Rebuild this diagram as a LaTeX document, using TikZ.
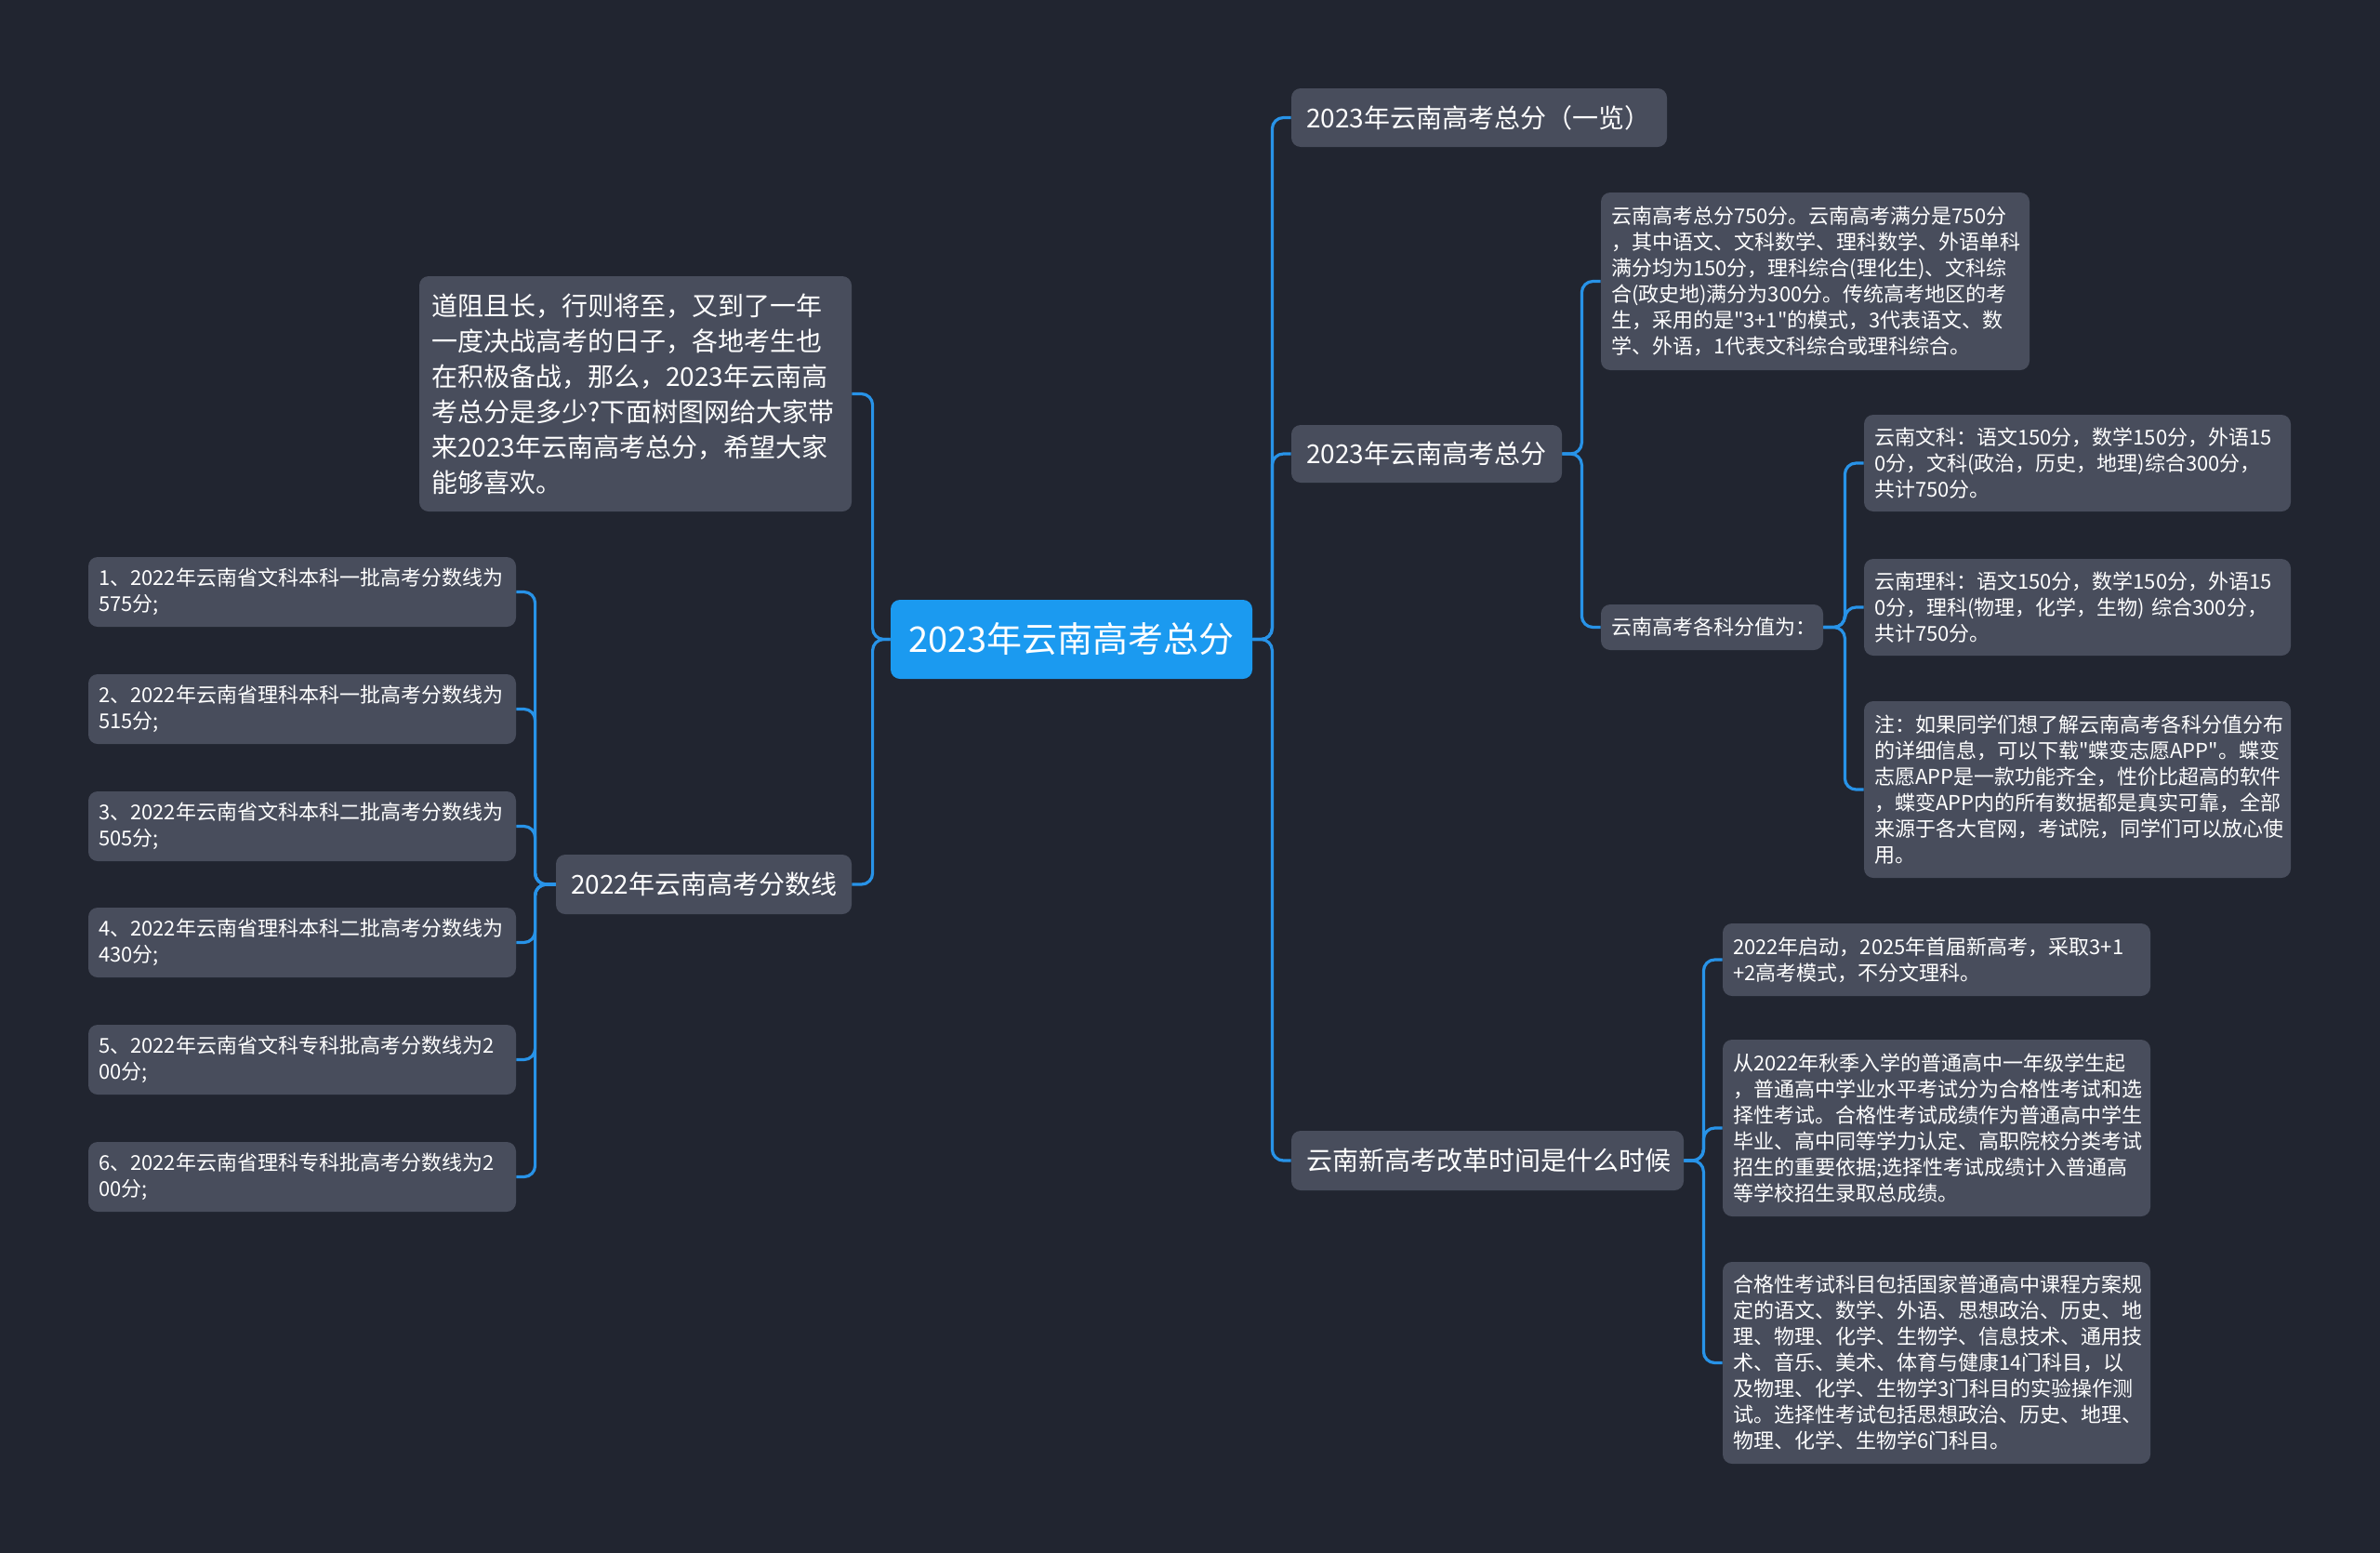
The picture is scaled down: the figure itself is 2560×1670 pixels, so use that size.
\documentclass[tikz,border=0pt]{standalone}
\usepackage{fontspec}
\newfontfamily\cjkf{Noto Sans CJK SC}
\definecolor{bgc}{HTML}{212530}
\definecolor{nodec}{HTML}{484D5C}
\definecolor{rootc}{HTML}{1B9AF0}
\definecolor{linec}{HTML}{2893E8}
\begin{document}
\begin{tikzpicture}[x=0.5pt,y=-0.5pt,
  box/.style={fill=nodec, rounded corners=5pt, text=white, align=left, inner ysep=0pt, inner xsep=5.5pt},
  sm/.style={font=\cjkf\fontsize{11pt}{14pt}\selectfont},
  md/.style={font=\cjkf\fontsize{14pt}{19pt}\selectfont},
  conn/.style={draw=linec, line width=1.6pt, rounded corners=6pt},
  leaf/.style={box, sm, minimum width=230pt, text width=219pt, minimum height=37.5pt}
]
\fill[bgc] (0,0) rectangle (2560,1670);
\useasboundingbox (0,0) rectangle (2560,1670);

% root
\node[fill=rootc, rounded corners=5pt, text=white, align=center, inner sep=0pt,
  minimum width=194.5pt, minimum height=42.5pt, font=\cjkf\fontsize{19pt}{23pt}\selectfont]
  (root) at (1152.5,687.5) {2023年云南高考总分};

% right level 1
\node[box, md, inner xsep=8pt, minimum width=202pt, text width=186pt, minimum height=31.5pt]
  (a1) at (1591,126.5) {2023年云南高考总分（一览）};
\node[box, md, inner xsep=8pt, minimum width=145.5pt, text width=129.5pt, minimum height=31pt]
  (a2) at (1534.5,488) {2023年云南高考总分};
\node[box, md, inner xsep=8pt, minimum width=211pt, text width=195pt, minimum height=32pt]
  (a3) at (1600,1248) {云南新高考改革时间是什么时候};

% under a2
\node[box, sm, minimum width=230.5pt, text width=219.5pt, minimum height=95.5pt]
  (b1) at (1952.5,302.5) {云南高考总分750分。云南高考满分是750分\\
，其中语文、文科数学、理科数学、外语单科\\
满分均为150分，理科综合(理化生)、文科综\\
合(政史地)满分为300分。传统高考地区的考\\
生，采用的是"3+1"的模式，3代表语文、数\\
学、外语，1代表文科综合或理科综合。};
\node[box, sm, minimum width=119.5pt, text width=108.5pt, minimum height=24.5pt]
  (b2) at (1841.5,674.5) {云南高考各科分值为：};

% under b2
\node[box, sm, minimum width=229.5pt, text width=218.5pt, minimum height=52pt]
  (c1) at (2234.5,498) {云南文科：语文150分，数学150分，外语15\\
0分，文科(政治，历史，地理)综合300分，\\
共计750分。};
\node[box, sm, minimum width=229.5pt, text width=218.5pt, minimum height=52pt]
  (c2) at (2234.5,653) {云南理科：语文150分，数学150分，外语15\\
0分，理科(物理，化学，生物) 综合300分，\\
共计750分。};
\node[box, sm, minimum width=229.5pt, text width=218.5pt, minimum height=95pt]
  (c3) at (2234.5,849) {注：如果同学们想了解云南高考各科分值分布\\
的详细信息，可以下载"蝶变志愿APP"。蝶变\\
志愿APP是一款功能齐全，性价比超高的软件\\
，蝶变APP内的所有数据都是真实可靠，全部\\
来源于各大官网，考试院，同学们可以放心使\\
用。};

% under a3
\node[box, sm, minimum width=230pt, text width=219pt, minimum height=39pt]
  (d1) at (2083,1032) {2022年启动，2025年首届新高考，采取3+1\\
+2高考模式，不分文理科。};
\node[box, sm, minimum width=230pt, text width=219pt, minimum height=95pt]
  (d2) at (2083,1213) {从2022年秋季入学的普通高中一年级学生起\\
，普通高中学业水平考试分为合格性考试和选\\
择性考试。合格性考试成绩作为普通高中学生\\
毕业、高中同等学力认定、高职院校分类考试\\
招生的重要依据;选择性考试成绩计入普通高\\
等学校招生录取总成绩。};
\node[box, sm, minimum width=230pt, text width=219pt, minimum height=108.5pt]
  (d3) at (2083,1465.5) {合格性考试科目包括国家普通高中课程方案规\\
定的语文、数学、外语、思想政治、历史、地\\
理、物理、化学、生物学、信息技术、通用技\\
术、音乐、美术、体育与健康14门科目，以\\
及物理、化学、生物学3门科目的实验操作测\\
试。选择性考试包括思想政治、历史、地理、\\
物理、化学、生物学6门科目。};

% left
\node[box, md, inner xsep=6.5pt, minimum width=232.5pt, text width=219.5pt, minimum height=126.5pt]
  (e1) at (683.5,423.5) {道阻且长，行则将至，又到了一年\\
一度决战高考的日子，各地考生也\\
在积极备战，那么，2023年云南高\\
考总分是多少?下面树图网给大家带\\
来2023年云南高考总分，希望大家\\
能够喜欢。};
\node[box, md, inner xsep=8pt, minimum width=159pt, text width=143pt, minimum height=32pt]
  (e2) at (757,951) {2022年云南高考分数线};

\node[leaf] (f1) at (325,636.5) {1、2022年云南省文科本科一批高考分数线为\\575分;};
\node[leaf] (f2) at (325,762.5) {2、2022年云南省理科本科一批高考分数线为\\515分;};
\node[leaf] (f3) at (325,888.5) {3、2022年云南省文科本科二批高考分数线为\\505分;};
\node[leaf] (f4) at (325,1013.5) {4、2022年云南省理科本科二批高考分数线为\\430分;};
\node[leaf] (f5) at (325,1139.5) {5、2022年云南省文科专科批高考分数线为2\\00分;};
\node[leaf] (f6) at (325,1265.5) {6、2022年云南省理科专科批高考分数线为2\\00分;};

% connectors
\foreach \c in {a1,a2,a3}
  \draw[conn] (root.east) -- ++(21,0) |- (\c.west);
\foreach \c in {e1,e2}
  \draw[conn] (root.west) -- ++(-19,0) |- (\c.east);
\foreach \c in {b1,b2}
  \draw[conn] (a2.east) -- ++(21,0) |- (\c.west);
\foreach \c in {c1,c2,c3}
  \draw[conn] (b2.east) -- ++(23,0) |- (\c.west);
\foreach \c in {d1,d2,d3}
  \draw[conn] (a3.east) -- ++(21,0) |- (\c.west);
\foreach \c in {f1,f2,f3,f4,f5,f6}
  \draw[conn] (e2.west) -- ++(-22,0) |- (\c.east);
\end{tikzpicture}
\end{document}
